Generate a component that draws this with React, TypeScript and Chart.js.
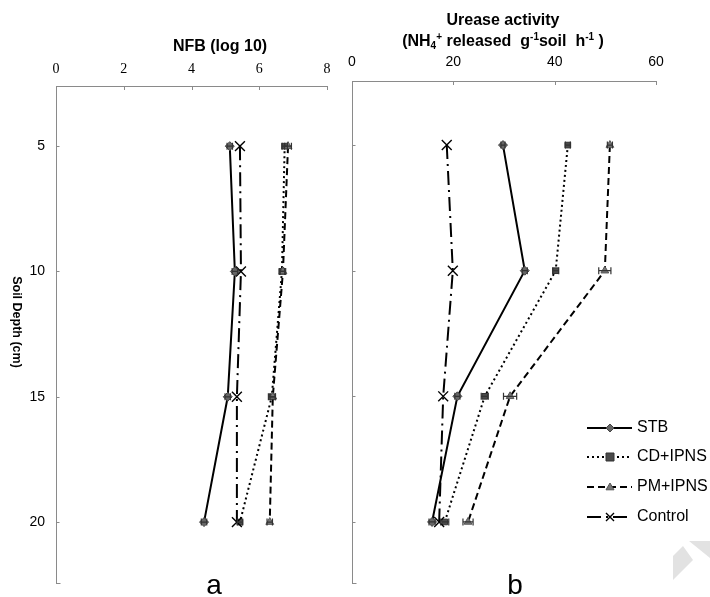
import React, { useEffect, useRef } from "react";
import { Chart, registerables } from "chart.js";
Chart.register(...registerables);

// ---------- data ----------
const depths = [5, 10, 15, 20];
const depthTicks = [5, 10, 15, 20];
const seriesNames = ["STB", "CD+IPNS", "PM+IPNS", "Control"];

const nfbTicks = [0, 2, 4, 6, 8];
const nfbSTB = [5.13, 5.28, 5.07, 4.37];
const nfbCD = [6.75, 6.67, 6.37, 5.43];
const nfbPM = [6.85, 6.7, 6.4, 6.31];
const nfbControl = [5.43, 5.46, 5.34, 5.34];
const nfbErrSTB = [0.08, 0.08, 0.08, 0.08];
const nfbErrCD = [0.08, 0.08, 0.1, 0.08];
const nfbErrPM = [0.1, 0.08, 0.08, 0.08];
const nfbErrControl = [0, 0, 0, 0];

const ureTicks = [0, 20, 40, 60];
const ureSTB = [29.8, 34.1, 20.8, 15.8];
const ureCD = [42.6, 40.2, 26.2, 18.3];
const urePM = [50.9, 49.9, 31.2, 22.9];
const ureControl = [18.7, 19.9, 18.0, 17.2];
const ureErrSTB = [0.4, 0.5, 0.5, 0.6];
const ureErrCD = [0.5, 0.6, 0.7, 0.8];
const ureErrPM = [0.5, 1.2, 1.3, 1.0];
const ureErrControl = [0, 0, 0, 0];

// ---------- styles ----------
const SANS = '"Liberation Sans", Arial, Helvetica, sans-serif';
const SERIF = '"Liberation Serif", "Times New Roman", serif';
const AXIS_GRAY = "#8a8a8a";
const W = 710;
const H = 597;

const seriesStyles = [
  { dash: [] as number[], pointStyle: "rectRot", radius: 4.5, fill: "#666", stroke: "#444", bw: 1 },
  { dash: [2, 3], pointStyle: "rect", radius: 4, fill: "#4a4a4a", stroke: "#333", bw: 1 },
  { dash: [7, 4], pointStyle: "triangle", radius: 4.5, fill: "#777", stroke: "#555", bw: 1 },
  { dash: [14, 5, 2, 5], pointStyle: "crossRot", radius: 7, fill: "#000", stroke: "#000", bw: 1.4 },
];

function makeDatasets(series: number[][]) {
  return series.map((vals, i) => {
    const st = seriesStyles[i];
    return {
      label: seriesNames[i],
      data: vals.map((v, j) => ({ x: v, y: depths[j] })),
      showLine: true,
      borderColor: "#000",
      borderWidth: 2,
      borderDash: st.dash,
      pointStyle: st.pointStyle,
      pointRadius: st.radius,
      pointBackgroundColor: st.fill,
      pointBorderColor: st.stroke,
      pointBorderWidth: st.bw,
      order: 3 - i,
    };
  });
}

function errorBarPlugin(errs: number[][], series: number[][]) {
  return {
    id: "errbars",
    afterDatasetsDraw(chart: any) {
      const ctx = chart.ctx;
      const xs = chart.scales.x;
      const ys = chart.scales.y;
      ctx.save();
      ctx.strokeStyle = "#333";
      ctx.lineWidth = 1.2;
      series.forEach((vals, i) => {
        vals.forEach((v, j) => {
          const e = errs[i][j];
          if (!e) return;
          const x1 = xs.getPixelForValue(v - e);
          const x2 = xs.getPixelForValue(v + e);
          const y = ys.getPixelForValue(depths[j]);
          ctx.beginPath();
          ctx.moveTo(x1, y);
          ctx.lineTo(x2, y);
          ctx.moveTo(x1, y - 3.5);
          ctx.lineTo(x1, y + 3.5);
          ctx.moveTo(x2, y - 3.5);
          ctx.lineTo(x2, y + 3.5);
          ctx.stroke();
        });
      });
      ctx.restore();
    },
  };
}

function innerTicksPlugin() {
  return {
    id: "innerticks",
    afterDraw(chart: any) {
      const ctx = chart.ctx;
      const { top, left, bottom } = chart.chartArea;
      ctx.save();
      ctx.strokeStyle = AXIS_GRAY;
      ctx.lineWidth = 1;
      chart.scales.x.ticks.forEach((t: any) => {
        const x = Math.round(chart.scales.x.getPixelForValue(t.value)) + 0.5;
        ctx.beginPath();
        ctx.moveTo(x, top);
        ctx.lineTo(x, top + 4);
        ctx.stroke();
      });
      const yl = Math.round(left) + 0.5;
      depthTicks.forEach((d) => {
        const y = Math.round(chart.scales.y.getPixelForValue(d)) + 0.5;
        ctx.beginPath();
        ctx.moveTo(yl, y);
        ctx.lineTo(yl + 3, y);
        ctx.stroke();
      });
      const yb = Math.round(bottom) + 0.5;
      ctx.beginPath();
      ctx.moveTo(yl, yb);
      ctx.lineTo(yl + 4, yb);
      ctx.stroke();
      ctx.restore();
    },
  };
}

function drawMarker(ctx: CanvasRenderingContext2D, i: number, x: number, y: number) {
  const st = seriesStyles[i];
  ctx.save();
  ctx.setLineDash([]);
  ctx.fillStyle = st.fill;
  ctx.strokeStyle = st.stroke;
  ctx.lineWidth = st.bw;
  const r = 4;
  ctx.beginPath();
  if (st.pointStyle === "rectRot") {
    ctx.moveTo(x, y - r); ctx.lineTo(x + r, y); ctx.lineTo(x, y + r); ctx.lineTo(x - r, y); ctx.closePath();
    ctx.fill(); ctx.stroke();
  } else if (st.pointStyle === "rect") {
    ctx.rect(x - r, y - r, 2 * r, 2 * r); ctx.fill(); ctx.stroke();
  } else if (st.pointStyle === "triangle") {
    ctx.moveTo(x, y - r); ctx.lineTo(x + r, y + r * 0.7); ctx.lineTo(x - r, y + r * 0.7); ctx.closePath();
    ctx.fill(); ctx.stroke();
  } else {
    const c = 4;
    ctx.moveTo(x - c, y - c); ctx.lineTo(x + c, y + c);
    ctx.moveTo(x + c, y - c); ctx.lineTo(x - c, y + c);
    ctx.stroke();
  }
  ctx.restore();
}

function leftDecorPlugin() {
  return {
    id: "leftdecor",
    afterDraw(chart: any) {
      const ctx = chart.ctx;
      ctx.save();
      ctx.fillStyle = "#000";
      ctx.textAlign = "center";
      ctx.textBaseline = "middle";
      ctx.font = `bold 16px ${SANS}`;
      ctx.fillText("NFB (log 10)", 220, 47);
      ctx.save();
      ctx.translate(16, 322);
      ctx.rotate(Math.PI / 2);
      ctx.font = `bold 12.5px ${SANS}`;
      ctx.fillText("Soil Depth (cm)", 0, 0);
      ctx.restore();
      ctx.font = `28px ${SANS}`;
      ctx.textBaseline = "alphabetic";
      ctx.fillText("a", 214, 594);
      ctx.restore();
    },
  };
}

function rightDecorPlugin() {
  return {
    id: "rightdecor",
    beforeDraw(chart: any) {
      const ctx = chart.ctx;
      ctx.save();
      ctx.fillStyle = "#e2e2e2";
      ctx.beginPath();
      ctx.moveTo(673, 556);
      ctx.lineTo(683, 546);
      ctx.lineTo(693, 560);
      ctx.lineTo(673, 580);
      ctx.closePath();
      ctx.fill();
      ctx.beginPath();
      ctx.moveTo(689, 541);
      ctx.lineTo(710, 541);
      ctx.lineTo(710, 558);
      ctx.closePath();
      ctx.fill();
      ctx.restore();
    },
    afterDraw(chart: any) {
      const ctx = chart.ctx;
      ctx.save();
      ctx.fillStyle = "#000";
      ctx.textBaseline = "middle";
      ctx.textAlign = "center";
      ctx.font = `bold 16px ${SANS}`;
      ctx.fillText("Urease activity", 503, 21);
      // second title line with sub/superscripts
      const big = `bold 16px ${SANS}`;
      const small = `bold 10px ${SANS}`;
      const parts: [string, string, number][] = [
        ["(NH", big, 0],
        ["4", small, 4],
        ["+", small, -5],
        [" released  g", big, 0],
        ["-1", small, -5],
        ["soil  h", big, 0],
        ["-1", small, -5],
        [" )", big, 0],
      ];
      let total = 0;
      parts.forEach(([t, f]) => { ctx.font = f; total += ctx.measureText(t).width; });
      let x = 503 - total / 2;
      ctx.textAlign = "left";
      parts.forEach(([t, f, dy]) => {
        ctx.font = f;
        ctx.fillText(t, x, 42 + dy);
        x += ctx.measureText(t).width;
      });
      // legend
      const legendY = [428, 457, 487, 517];
      seriesNames.forEach((name, i) => {
        const y = legendY[i];
        ctx.save();
        ctx.strokeStyle = "#000";
        ctx.lineWidth = 2;
        ctx.setLineDash(seriesStyles[i].dash);
        ctx.beginPath();
        ctx.moveTo(587, y);
        ctx.lineTo(632, y);
        ctx.stroke();
        ctx.restore();
        drawMarker(ctx, i, 610, y);
        ctx.font = `16px ${SANS}`;
        ctx.fillStyle = "#000";
        ctx.textAlign = "left";
        ctx.fillText(name, 637, y);
      });
      ctx.font = `28px ${SANS}`;
      ctx.textAlign = "center";
      ctx.textBaseline = "alphabetic";
      ctx.fillText("b", 515, 594);
      ctx.restore();
    },
  };
}

function buildConfig(opts: {
  series: number[][];
  errs: number[][];
  xTicks: number[];
  xMax: number;
  xFont: string;
  xHeight: number;
  xPad: number;
  yMin: number;
  yMax: number;
  yWidth: number;
  yLabels: boolean;
  padding: { left: number; right: number; top: number; bottom: number };
  decor: any;
}) {
  return {
    type: "scatter" as const,
    data: { datasets: makeDatasets(opts.series) },
    options: {
      animation: false,
      responsive: false,
      maintainAspectRatio: false,
      devicePixelRatio: 1,
      events: [],
      layout: { padding: opts.padding },
      plugins: { legend: { display: false }, tooltip: { enabled: false } },
      scales: {
        x: {
          type: "linear",
          position: "top",
          min: 0,
          max: opts.xMax,
          afterBuildTicks: (s: any) => {
            s.ticks = opts.xTicks.map((v) => ({ value: v }));
          },
          afterFit: (s: any) => {
            s.height = opts.xHeight;
            s.paddingLeft = 0;
            s.paddingRight = 0;
          },
          ticks: {
            color: "#000",
            font: { family: opts.xFont, size: 14 },
            padding: opts.xPad,
            maxRotation: 0,
          },
          grid: { display: false, drawTicks: false },
          border: { display: true, color: AXIS_GRAY, width: 1 },
        },
        y: {
          type: "linear",
          position: "left",
          reverse: true,
          min: opts.yMin,
          max: opts.yMax,
          afterBuildTicks: (s: any) => {
            s.ticks = depthTicks.map((v) => ({ value: v }));
          },
          afterFit: (s: any) => {
            s.width = opts.yWidth;
            s.paddingTop = 0;
            s.paddingBottom = 0;
          },
          ticks: {
            display: opts.yLabels,
            color: "#000",
            font: { family: SANS, size: 14 },
            padding: 11,
          },
          grid: { display: false, drawTicks: false },
          border: { display: true, color: AXIS_GRAY, width: 1 },
        },
      },
    },
    plugins: [errorBarPlugin(opts.errs, opts.series), innerTicksPlugin(), opts.decor],
  };
}

export default function App() {
  const leftRef = useRef<HTMLCanvasElement>(null);
  const rightRef = useRef<HTMLCanvasElement>(null);

  useEffect(() => {
    const c1 = new Chart(
      leftRef.current!,
      buildConfig({
        series: [nfbSTB, nfbCD, nfbPM, nfbControl],
        errs: [nfbErrSTB, nfbErrCD, nfbErrPM, nfbErrControl],
        xTicks: nfbTicks,
        xMax: 8,
        xFont: SERIF,
        xHeight: 86,
        xPad: 8,
        yMin: 2.6,
        yMax: 22.43,
        yWidth: 56,
        yLabels: true,
        padding: { left: 0, right: W - 327, top: 0, bottom: H - 583 },
        decor: leftDecorPlugin(),
      }) as any
    );
    const c2 = new Chart(
      rightRef.current!,
      buildConfig({
        series: [ureSTB, ureCD, urePM, ureControl],
        errs: [ureErrSTB, ureErrCD, ureErrPM, ureErrControl],
        xTicks: ureTicks,
        xMax: 60,
        xFont: SANS,
        xHeight: 81,
        xPad: 10,
        yMin: 2.45,
        yMax: 22.43,
        yWidth: 12,
        yLabels: false,
        padding: { left: 340, right: W - 656, top: 0, bottom: H - 583 },
        decor: rightDecorPlugin(),
      }) as any
    );
    return () => {
      c1.destroy();
      c2.destroy();
    };
  }, []);

  return (
    <div style={{ position: "absolute", left: 0, top: 0, width: W, height: H, background: "#fff" }}>
      <canvas ref={leftRef} width={W} height={H} style={{ position: "absolute", left: 0, top: 0 }} />
      <canvas ref={rightRef} width={W} height={H} style={{ position: "absolute", left: 0, top: 0 }} />
    </div>
  );
}
